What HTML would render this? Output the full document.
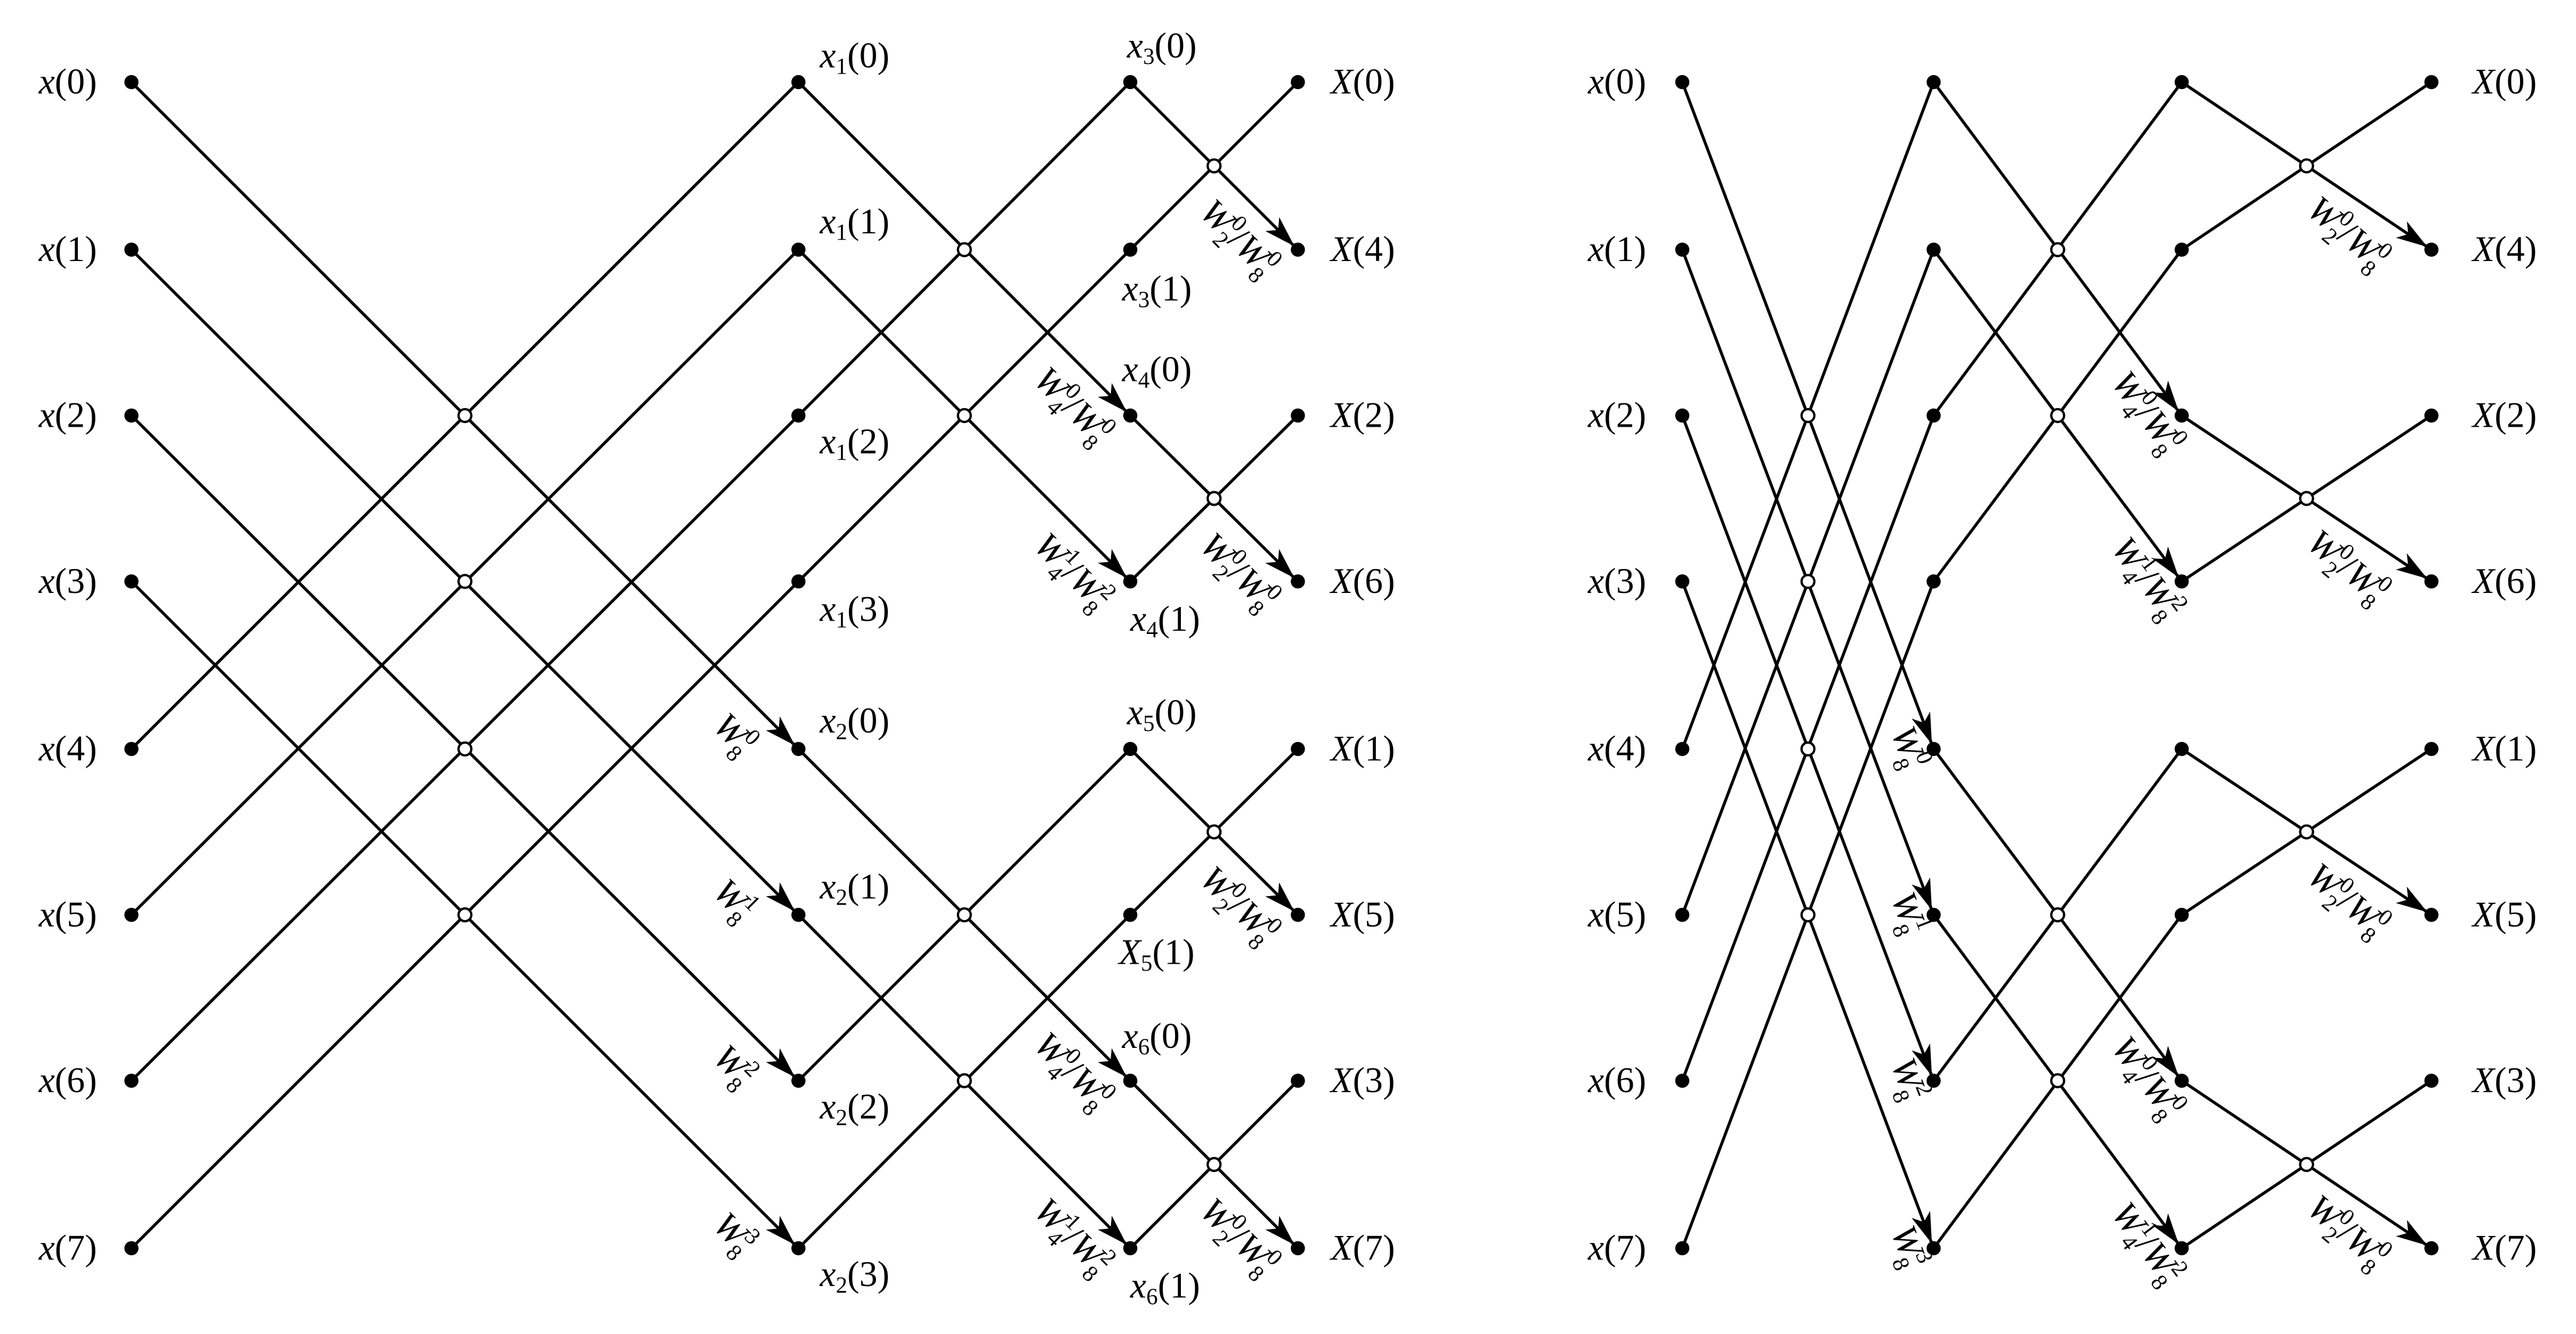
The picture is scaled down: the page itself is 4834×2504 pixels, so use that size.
<!DOCTYPE html>
<html><head><meta charset="utf-8"><style>
html,body{margin:0;padding:0;background:#fff;}
svg{display:block;}
text{font-family:"Liberation Serif",serif;font-size:22px;fill:#000;}
.i{font-style:italic;}
.s{font-size:14px;font-style:normal;}
.n{font-style:normal;}
</style></head><body>
<svg width="4834" height="2504" viewBox="0 0 1568 812.2" xmlns="http://www.w3.org/2000/svg">
<defs>
<marker id="a" markerUnits="userSpaceOnUse" markerWidth="24" markerHeight="14" refX="22" refY="6" orient="auto">
<path d="M0,0 L19,6 L0,12 L5,6 z" fill="#000"/>
</marker>
</defs>
<g stroke="#000" stroke-width="1.8" fill="none">
<line x1="80" y1="50" x2="486" y2="456" marker-end="url(#a)"/>
<line x1="80" y1="152" x2="486" y2="557" marker-end="url(#a)"/>
<line x1="80" y1="253" x2="486" y2="658" marker-end="url(#a)"/>
<line x1="80" y1="354" x2="486" y2="760" marker-end="url(#a)"/>
<line x1="80" y1="456" x2="486" y2="50"/>
<line x1="80" y1="557" x2="486" y2="152"/>
<line x1="80" y1="658" x2="486" y2="253"/>
<line x1="80" y1="760" x2="486" y2="354"/>
<line x1="486" y1="50" x2="688" y2="253" marker-end="url(#a)"/>
<line x1="486" y1="152" x2="688" y2="354" marker-end="url(#a)"/>
<line x1="486" y1="253" x2="688" y2="50"/>
<line x1="486" y1="354" x2="688" y2="152"/>
<line x1="486" y1="456" x2="688" y2="658" marker-end="url(#a)"/>
<line x1="486" y1="557" x2="688" y2="760" marker-end="url(#a)"/>
<line x1="486" y1="658" x2="688" y2="456"/>
<line x1="486" y1="760" x2="688" y2="557"/>
<line x1="688" y1="50" x2="790" y2="152" marker-end="url(#a)"/>
<line x1="688" y1="152" x2="790" y2="50"/>
<line x1="688" y1="253" x2="790" y2="354" marker-end="url(#a)"/>
<line x1="688" y1="354" x2="790" y2="253"/>
<line x1="688" y1="456" x2="790" y2="557" marker-end="url(#a)"/>
<line x1="688" y1="557" x2="790" y2="456"/>
<line x1="688" y1="658" x2="790" y2="760" marker-end="url(#a)"/>
<line x1="688" y1="760" x2="790" y2="658"/>
<line x1="1024" y1="50" x2="1177" y2="456" marker-end="url(#a)"/>
<line x1="1024" y1="152" x2="1177" y2="557" marker-end="url(#a)"/>
<line x1="1024" y1="253" x2="1177" y2="658" marker-end="url(#a)"/>
<line x1="1024" y1="354" x2="1177" y2="760" marker-end="url(#a)"/>
<line x1="1024" y1="456" x2="1177" y2="50"/>
<line x1="1024" y1="557" x2="1177" y2="152"/>
<line x1="1024" y1="658" x2="1177" y2="253"/>
<line x1="1024" y1="760" x2="1177" y2="354"/>
<line x1="1177" y1="50" x2="1328" y2="253" marker-end="url(#a)"/>
<line x1="1177" y1="152" x2="1328" y2="354" marker-end="url(#a)"/>
<line x1="1177" y1="253" x2="1328" y2="50"/>
<line x1="1177" y1="354" x2="1328" y2="152"/>
<line x1="1177" y1="456" x2="1328" y2="658" marker-end="url(#a)"/>
<line x1="1177" y1="557" x2="1328" y2="760" marker-end="url(#a)"/>
<line x1="1177" y1="658" x2="1328" y2="456"/>
<line x1="1177" y1="760" x2="1328" y2="557"/>
<line x1="1328" y1="50" x2="1480" y2="152" marker-end="url(#a)"/>
<line x1="1328" y1="152" x2="1480" y2="50"/>
<line x1="1328" y1="253" x2="1480" y2="354" marker-end="url(#a)"/>
<line x1="1328" y1="354" x2="1480" y2="253"/>
<line x1="1328" y1="456" x2="1480" y2="557" marker-end="url(#a)"/>
<line x1="1328" y1="557" x2="1480" y2="456"/>
<line x1="1328" y1="658" x2="1480" y2="760" marker-end="url(#a)"/>
<line x1="1328" y1="760" x2="1480" y2="658"/>
</g>
<g fill="#000">
<circle cx="80" cy="50" r="4.3"/><circle cx="80" cy="152" r="4.3"/><circle cx="80" cy="253" r="4.3"/><circle cx="80" cy="354" r="4.3"/><circle cx="80" cy="456" r="4.3"/><circle cx="80" cy="557" r="4.3"/><circle cx="80" cy="658" r="4.3"/><circle cx="80" cy="760" r="4.3"/>
<circle cx="486" cy="50" r="4.3"/><circle cx="486" cy="152" r="4.3"/><circle cx="486" cy="253" r="4.3"/><circle cx="486" cy="354" r="4.3"/><circle cx="486" cy="456" r="4.3"/><circle cx="486" cy="557" r="4.3"/><circle cx="486" cy="658" r="4.3"/><circle cx="486" cy="760" r="4.3"/>
<circle cx="688" cy="50" r="4.3"/><circle cx="688" cy="152" r="4.3"/><circle cx="688" cy="253" r="4.3"/><circle cx="688" cy="354" r="4.3"/><circle cx="688" cy="456" r="4.3"/><circle cx="688" cy="557" r="4.3"/><circle cx="688" cy="658" r="4.3"/><circle cx="688" cy="760" r="4.3"/>
<circle cx="790" cy="50" r="4.3"/><circle cx="790" cy="152" r="4.3"/><circle cx="790" cy="253" r="4.3"/><circle cx="790" cy="354" r="4.3"/><circle cx="790" cy="456" r="4.3"/><circle cx="790" cy="557" r="4.3"/><circle cx="790" cy="658" r="4.3"/><circle cx="790" cy="760" r="4.3"/>
<circle cx="1024" cy="50" r="4.3"/><circle cx="1024" cy="152" r="4.3"/><circle cx="1024" cy="253" r="4.3"/><circle cx="1024" cy="354" r="4.3"/><circle cx="1024" cy="456" r="4.3"/><circle cx="1024" cy="557" r="4.3"/><circle cx="1024" cy="658" r="4.3"/><circle cx="1024" cy="760" r="4.3"/>
<circle cx="1177" cy="50" r="4.3"/><circle cx="1177" cy="152" r="4.3"/><circle cx="1177" cy="253" r="4.3"/><circle cx="1177" cy="354" r="4.3"/><circle cx="1177" cy="456" r="4.3"/><circle cx="1177" cy="557" r="4.3"/><circle cx="1177" cy="658" r="4.3"/><circle cx="1177" cy="760" r="4.3"/>
<circle cx="1328" cy="50" r="4.3"/><circle cx="1328" cy="152" r="4.3"/><circle cx="1328" cy="253" r="4.3"/><circle cx="1328" cy="354" r="4.3"/><circle cx="1328" cy="456" r="4.3"/><circle cx="1328" cy="557" r="4.3"/><circle cx="1328" cy="658" r="4.3"/><circle cx="1328" cy="760" r="4.3"/>
<circle cx="1480" cy="50" r="4.3"/><circle cx="1480" cy="152" r="4.3"/><circle cx="1480" cy="253" r="4.3"/><circle cx="1480" cy="354" r="4.3"/><circle cx="1480" cy="456" r="4.3"/><circle cx="1480" cy="557" r="4.3"/><circle cx="1480" cy="658" r="4.3"/><circle cx="1480" cy="760" r="4.3"/>
</g>
<g fill="#fff" stroke="#000" stroke-width="1.4">
<circle cx="283" cy="253" r="3.9"/><circle cx="283" cy="354" r="3.9"/><circle cx="283" cy="456" r="3.9"/><circle cx="283" cy="557" r="3.9"/>
<circle cx="587" cy="152" r="3.9"/><circle cx="587" cy="253" r="3.9"/><circle cx="587" cy="557" r="3.9"/><circle cx="587" cy="658" r="3.9"/>
<circle cx="739" cy="101" r="3.9"/><circle cx="739" cy="303.5" r="3.9"/><circle cx="739" cy="506.5" r="3.9"/><circle cx="739" cy="709" r="3.9"/>
<circle cx="1100.5" cy="253" r="3.9"/><circle cx="1100.5" cy="354" r="3.9"/><circle cx="1100.5" cy="456" r="3.9"/><circle cx="1100.5" cy="557" r="3.9"/>
<circle cx="1252.5" cy="152" r="3.9"/><circle cx="1252.5" cy="253" r="3.9"/><circle cx="1252.5" cy="557" r="3.9"/><circle cx="1252.5" cy="658" r="3.9"/>
<circle cx="1404" cy="101" r="3.9"/><circle cx="1404" cy="303.5" r="3.9"/><circle cx="1404" cy="506.5" r="3.9"/><circle cx="1404" cy="709" r="3.9"/>
</g>
<g text-anchor="end">
<text x="59" y="57"><tspan class="i">x</tspan>(0)</text>
<text x="59" y="159"><tspan class="i">x</tspan>(1)</text>
<text x="59" y="260"><tspan class="i">x</tspan>(2)</text>
<text x="59" y="361"><tspan class="i">x</tspan>(3)</text>
<text x="59" y="463"><tspan class="i">x</tspan>(4)</text>
<text x="59" y="564"><tspan class="i">x</tspan>(5)</text>
<text x="59" y="665"><tspan class="i">x</tspan>(6)</text>
<text x="59" y="767"><tspan class="i">x</tspan>(7)</text>
<text x="1002" y="57"><tspan class="i">x</tspan>(0)</text>
<text x="1002" y="159"><tspan class="i">x</tspan>(1)</text>
<text x="1002" y="260"><tspan class="i">x</tspan>(2)</text>
<text x="1002" y="361"><tspan class="i">x</tspan>(3)</text>
<text x="1002" y="463"><tspan class="i">x</tspan>(4)</text>
<text x="1002" y="564"><tspan class="i">x</tspan>(5)</text>
<text x="1002" y="665"><tspan class="i">x</tspan>(6)</text>
<text x="1002" y="767"><tspan class="i">x</tspan>(7)</text>
</g>
<text x="810" y="57"><tspan class="i">X</tspan>(0)</text>
<text x="810" y="159"><tspan class="i">X</tspan>(4)</text>
<text x="810" y="260"><tspan class="i">X</tspan>(2)</text>
<text x="810" y="361"><tspan class="i">X</tspan>(6)</text>
<text x="810" y="463"><tspan class="i">X</tspan>(1)</text>
<text x="810" y="564"><tspan class="i">X</tspan>(5)</text>
<text x="810" y="665"><tspan class="i">X</tspan>(3)</text>
<text x="810" y="767"><tspan class="i">X</tspan>(7)</text>
<text x="1505" y="57"><tspan class="i">X</tspan>(0)</text>
<text x="1505" y="159"><tspan class="i">X</tspan>(4)</text>
<text x="1505" y="260"><tspan class="i">X</tspan>(2)</text>
<text x="1505" y="361"><tspan class="i">X</tspan>(6)</text>
<text x="1505" y="463"><tspan class="i">X</tspan>(1)</text>
<text x="1505" y="564"><tspan class="i">X</tspan>(5)</text>
<text x="1505" y="665"><tspan class="i">X</tspan>(3)</text>
<text x="1505" y="767"><tspan class="i">X</tspan>(7)</text>
<text x="499" y="41"><tspan class="i">x</tspan><tspan class="s" dy="4">1</tspan><tspan dy="-4">(0)</tspan></text>
<text x="499" y="142"><tspan class="i">x</tspan><tspan class="s" dy="4">1</tspan><tspan dy="-4">(1)</tspan></text>
<text x="499" y="276"><tspan class="i">x</tspan><tspan class="s" dy="4">1</tspan><tspan dy="-4">(2)</tspan></text>
<text x="499" y="378"><tspan class="i">x</tspan><tspan class="s" dy="4">1</tspan><tspan dy="-4">(3)</tspan></text>
<text x="499" y="446"><tspan class="i">x</tspan><tspan class="s" dy="4">2</tspan><tspan dy="-4">(0)</tspan></text>
<text x="499" y="547"><tspan class="i">x</tspan><tspan class="s" dy="4">2</tspan><tspan dy="-4">(1)</tspan></text>
<text x="499" y="681"><tspan class="i">x</tspan><tspan class="s" dy="4">2</tspan><tspan dy="-4">(2)</tspan></text>
<text x="499" y="783"><tspan class="i">x</tspan><tspan class="s" dy="4">2</tspan><tspan dy="-4">(3)</tspan></text>
<text x="686" y="35"><tspan class="i">x</tspan><tspan class="s" dy="4">3</tspan><tspan dy="-4">(0)</tspan></text>
<text x="683" y="183"><tspan class="i">x</tspan><tspan class="s" dy="4">3</tspan><tspan dy="-4">(1)</tspan></text>
<text x="683" y="232"><tspan class="i">x</tspan><tspan class="s" dy="4">4</tspan><tspan dy="-4">(0)</tspan></text>
<text x="688" y="384"><tspan class="i">x</tspan><tspan class="s" dy="4">4</tspan><tspan dy="-4">(1)</tspan></text>
<text x="686" y="441"><tspan class="i">x</tspan><tspan class="s" dy="4">5</tspan><tspan dy="-4">(0)</tspan></text>
<text x="681" y="587"><tspan class="i">X</tspan><tspan class="s" dy="4">5</tspan><tspan dy="-4">(1)</tspan></text>
<text x="683" y="638"><tspan class="i">x</tspan><tspan class="s" dy="4">6</tspan><tspan dy="-4">(0)</tspan></text>
<text x="688" y="790"><tspan class="i">x</tspan><tspan class="s" dy="4">6</tspan><tspan dy="-4">(1)</tspan></text>
<g text-anchor="middle">
<text transform="translate(447,447) rotate(45)" y="7" class="i">W<tspan class="s" dy="-9">0</tspan><tspan class="s" dx="-8" dy="15">8</tspan></text>
<text transform="translate(447,548) rotate(45)" y="7" class="i">W<tspan class="s" dy="-9">1</tspan><tspan class="s" dx="-8" dy="15">8</tspan></text>
<text transform="translate(447,649) rotate(45)" y="7" class="i">W<tspan class="s" dy="-9">2</tspan><tspan class="s" dx="-8" dy="15">8</tspan></text>
<text transform="translate(447,751) rotate(45)" y="7" class="i">W<tspan class="s" dy="-9">3</tspan><tspan class="s" dx="-8" dy="15">8</tspan></text>
<text transform="translate(653,247) rotate(45)" y="7" class="i">W<tspan class="s" dy="-9">0</tspan><tspan class="s" dx="-8" dy="15">4</tspan><tspan class="n" dy="-6">/</tspan>W<tspan class="s" dy="-9">0</tspan><tspan class="s" dx="-8" dy="15">8</tspan></text>
<text transform="translate(653,348) rotate(45)" y="7" class="i">W<tspan class="s" dy="-9">1</tspan><tspan class="s" dx="-8" dy="15">4</tspan><tspan class="n" dy="-6">/</tspan>W<tspan class="s" dy="-9">2</tspan><tspan class="s" dx="-8" dy="15">8</tspan></text>
<text transform="translate(653,652) rotate(45)" y="7" class="i">W<tspan class="s" dy="-9">0</tspan><tspan class="s" dx="-8" dy="15">4</tspan><tspan class="n" dy="-6">/</tspan>W<tspan class="s" dy="-9">0</tspan><tspan class="s" dx="-8" dy="15">8</tspan></text>
<text transform="translate(653,753) rotate(45)" y="7" class="i">W<tspan class="s" dy="-9">1</tspan><tspan class="s" dx="-8" dy="15">4</tspan><tspan class="n" dy="-6">/</tspan>W<tspan class="s" dy="-9">2</tspan><tspan class="s" dx="-8" dy="15">8</tspan></text>
<text transform="translate(754,145) rotate(45)" y="7" class="i">W<tspan class="s" dy="-9">0</tspan><tspan class="s" dx="-8" dy="15">2</tspan><tspan class="n" dy="-6">/</tspan>W<tspan class="s" dy="-9">0</tspan><tspan class="s" dx="-8" dy="15">8</tspan></text>
<text transform="translate(754,348) rotate(45)" y="7" class="i">W<tspan class="s" dy="-9">0</tspan><tspan class="s" dx="-8" dy="15">2</tspan><tspan class="n" dy="-6">/</tspan>W<tspan class="s" dy="-9">0</tspan><tspan class="s" dx="-8" dy="15">8</tspan></text>
<text transform="translate(754,551) rotate(45)" y="7" class="i">W<tspan class="s" dy="-9">0</tspan><tspan class="s" dx="-8" dy="15">2</tspan><tspan class="n" dy="-6">/</tspan>W<tspan class="s" dy="-9">0</tspan><tspan class="s" dx="-8" dy="15">8</tspan></text>
<text transform="translate(754,753) rotate(45)" y="7" class="i">W<tspan class="s" dy="-9">0</tspan><tspan class="s" dx="-8" dy="15">2</tspan><tspan class="n" dy="-6">/</tspan>W<tspan class="s" dy="-9">0</tspan><tspan class="s" dx="-8" dy="15">8</tspan></text>
<text transform="translate(1162,455) rotate(69)" y="7" class="i">W<tspan class="s" dy="-9">0</tspan><tspan class="s" dx="-8" dy="15">8</tspan></text>
<text transform="translate(1162,556) rotate(69)" y="7" class="i">W<tspan class="s" dy="-9">1</tspan><tspan class="s" dx="-8" dy="15">8</tspan></text>
<text transform="translate(1162,657) rotate(69)" y="7" class="i">W<tspan class="s" dy="-9">2</tspan><tspan class="s" dx="-8" dy="15">8</tspan></text>
<text transform="translate(1162,759) rotate(69)" y="7" class="i">W<tspan class="s" dy="-9">3</tspan><tspan class="s" dx="-8" dy="15">8</tspan></text>
<text transform="translate(1307,251) rotate(53)" y="7" class="i">W<tspan class="s" dy="-9">0</tspan><tspan class="s" dx="-8" dy="15">4</tspan><tspan class="n" dy="-6">/</tspan>W<tspan class="s" dy="-9">0</tspan><tspan class="s" dx="-8" dy="15">8</tspan></text>
<text transform="translate(1307,352) rotate(53)" y="7" class="i">W<tspan class="s" dy="-9">1</tspan><tspan class="s" dx="-8" dy="15">4</tspan><tspan class="n" dy="-6">/</tspan>W<tspan class="s" dy="-9">2</tspan><tspan class="s" dx="-8" dy="15">8</tspan></text>
<text transform="translate(1307,656) rotate(53)" y="7" class="i">W<tspan class="s" dy="-9">0</tspan><tspan class="s" dx="-8" dy="15">4</tspan><tspan class="n" dy="-6">/</tspan>W<tspan class="s" dy="-9">0</tspan><tspan class="s" dx="-8" dy="15">8</tspan></text>
<text transform="translate(1307,757) rotate(53)" y="7" class="i">W<tspan class="s" dy="-9">1</tspan><tspan class="s" dx="-8" dy="15">4</tspan><tspan class="n" dy="-6">/</tspan>W<tspan class="s" dy="-9">2</tspan><tspan class="s" dx="-8" dy="15">8</tspan></text>
<text transform="translate(1429,142) rotate(40)" y="7" class="i">W<tspan class="s" dy="-9">0</tspan><tspan class="s" dx="-8" dy="15">2</tspan><tspan class="n" dy="-6">/</tspan>W<tspan class="s" dy="-9">0</tspan><tspan class="s" dx="-8" dy="15">8</tspan></text>
<text transform="translate(1429,345) rotate(40)" y="7" class="i">W<tspan class="s" dy="-9">0</tspan><tspan class="s" dx="-8" dy="15">2</tspan><tspan class="n" dy="-6">/</tspan>W<tspan class="s" dy="-9">0</tspan><tspan class="s" dx="-8" dy="15">8</tspan></text>
<text transform="translate(1429,548) rotate(40)" y="7" class="i">W<tspan class="s" dy="-9">0</tspan><tspan class="s" dx="-8" dy="15">2</tspan><tspan class="n" dy="-6">/</tspan>W<tspan class="s" dy="-9">0</tspan><tspan class="s" dx="-8" dy="15">8</tspan></text>
<text transform="translate(1429,750) rotate(40)" y="7" class="i">W<tspan class="s" dy="-9">0</tspan><tspan class="s" dx="-8" dy="15">2</tspan><tspan class="n" dy="-6">/</tspan>W<tspan class="s" dy="-9">0</tspan><tspan class="s" dx="-8" dy="15">8</tspan></text>
</g>
</svg>
</body></html>
